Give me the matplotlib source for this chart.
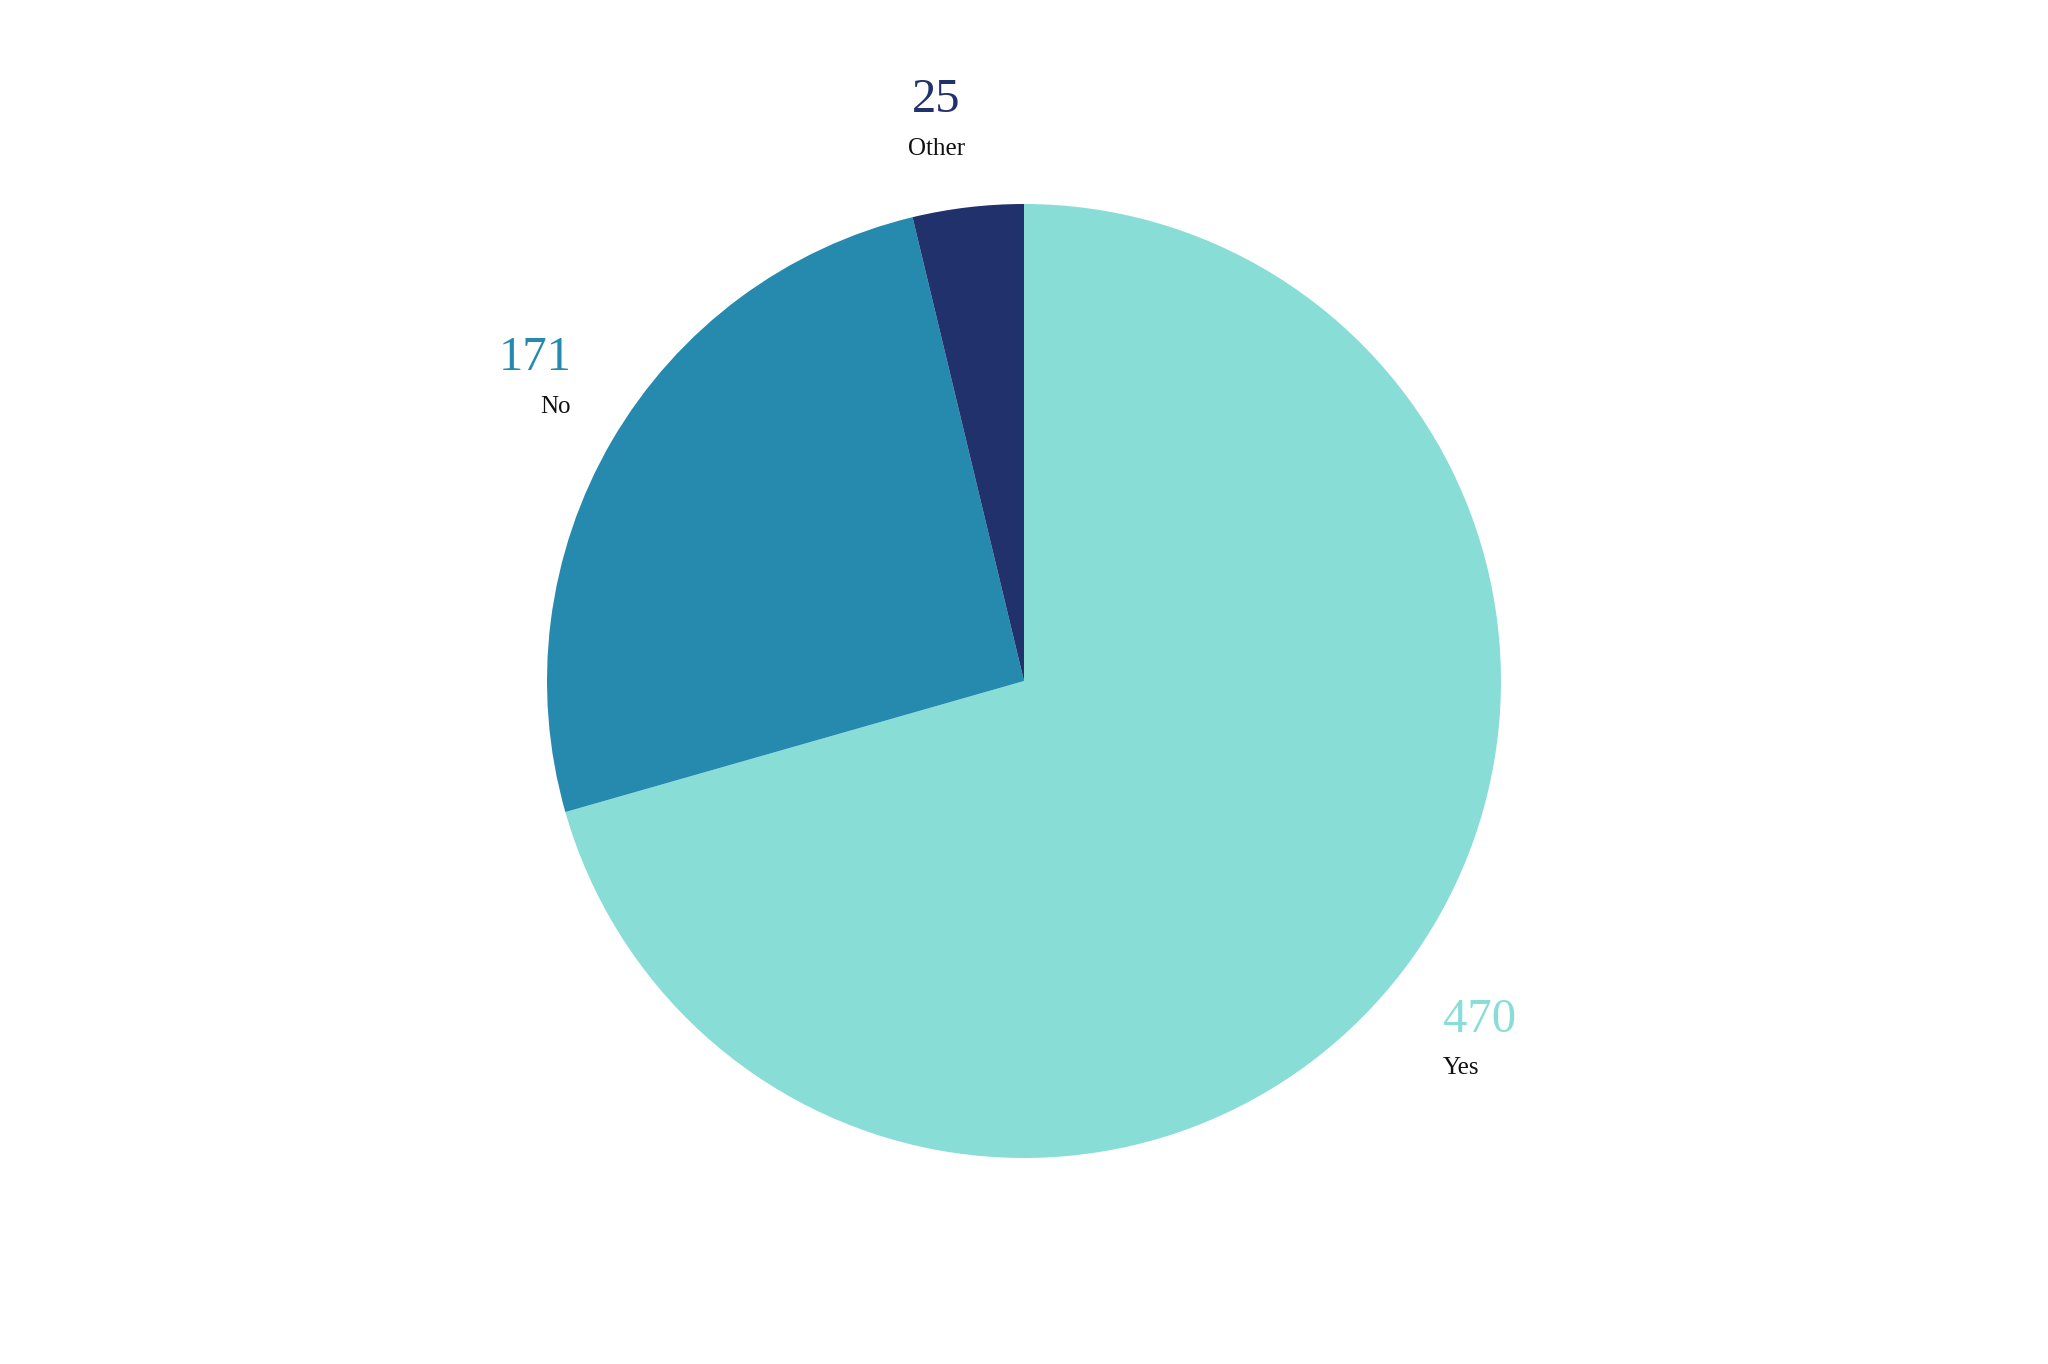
import numpy as np
import matplotlib.pyplot as plt

plt.rcParams["font.family"] = ["Liberation Serif", "DejaVu Serif"]

labels = ["Yes", "No", "Other"]
values = [470, 171, 25]
colors = ["#88ddd6", "#258aae", "#21316c"]
# small per-label nudges (points) so the outside labels sit like the original
nudge = [(-19, -19), (21, 13), (-16, 2)]

fig = plt.figure(figsize=(20.48, 13.64), dpi=100)
ax = fig.add_axes([0, 0, 1, 1])

wedges, _ = ax.pie(values, colors=colors, startangle=90, counterclock=False,
                   radius=1, center=(0, 0), wedgeprops=dict(linewidth=0))

ax.set_xlim(-1024 / 477, 1024 / 477)
ax.set_ylim(-683 / 477, 681 / 477)
ax.axis("off")

for w, lab, val, col, (nx, ny) in zip(wedges, labels, values, colors, nudge):
    ang = np.deg2rad((w.theta1 + w.theta2) / 2)
    c, s = np.cos(ang), np.sin(ang)
    r = 1.17
    x, y = r * c, r * s
    if c > 0.3:
        ha = "left"
    elif c < -0.3:
        ha = "right"
    else:
        ha = "center"
    ax.annotate(str(val), (x, y), xytext=(nx, ny + 17), textcoords="offset points",
                ha=ha, va="center", fontsize=35, color=col)
    ax.annotate(lab, (x, y), xytext=(nx, ny - 18), textcoords="offset points",
                ha=ha, va="center", fontsize=18, color="#111111")

fig.savefig("out.png", dpi=100)
